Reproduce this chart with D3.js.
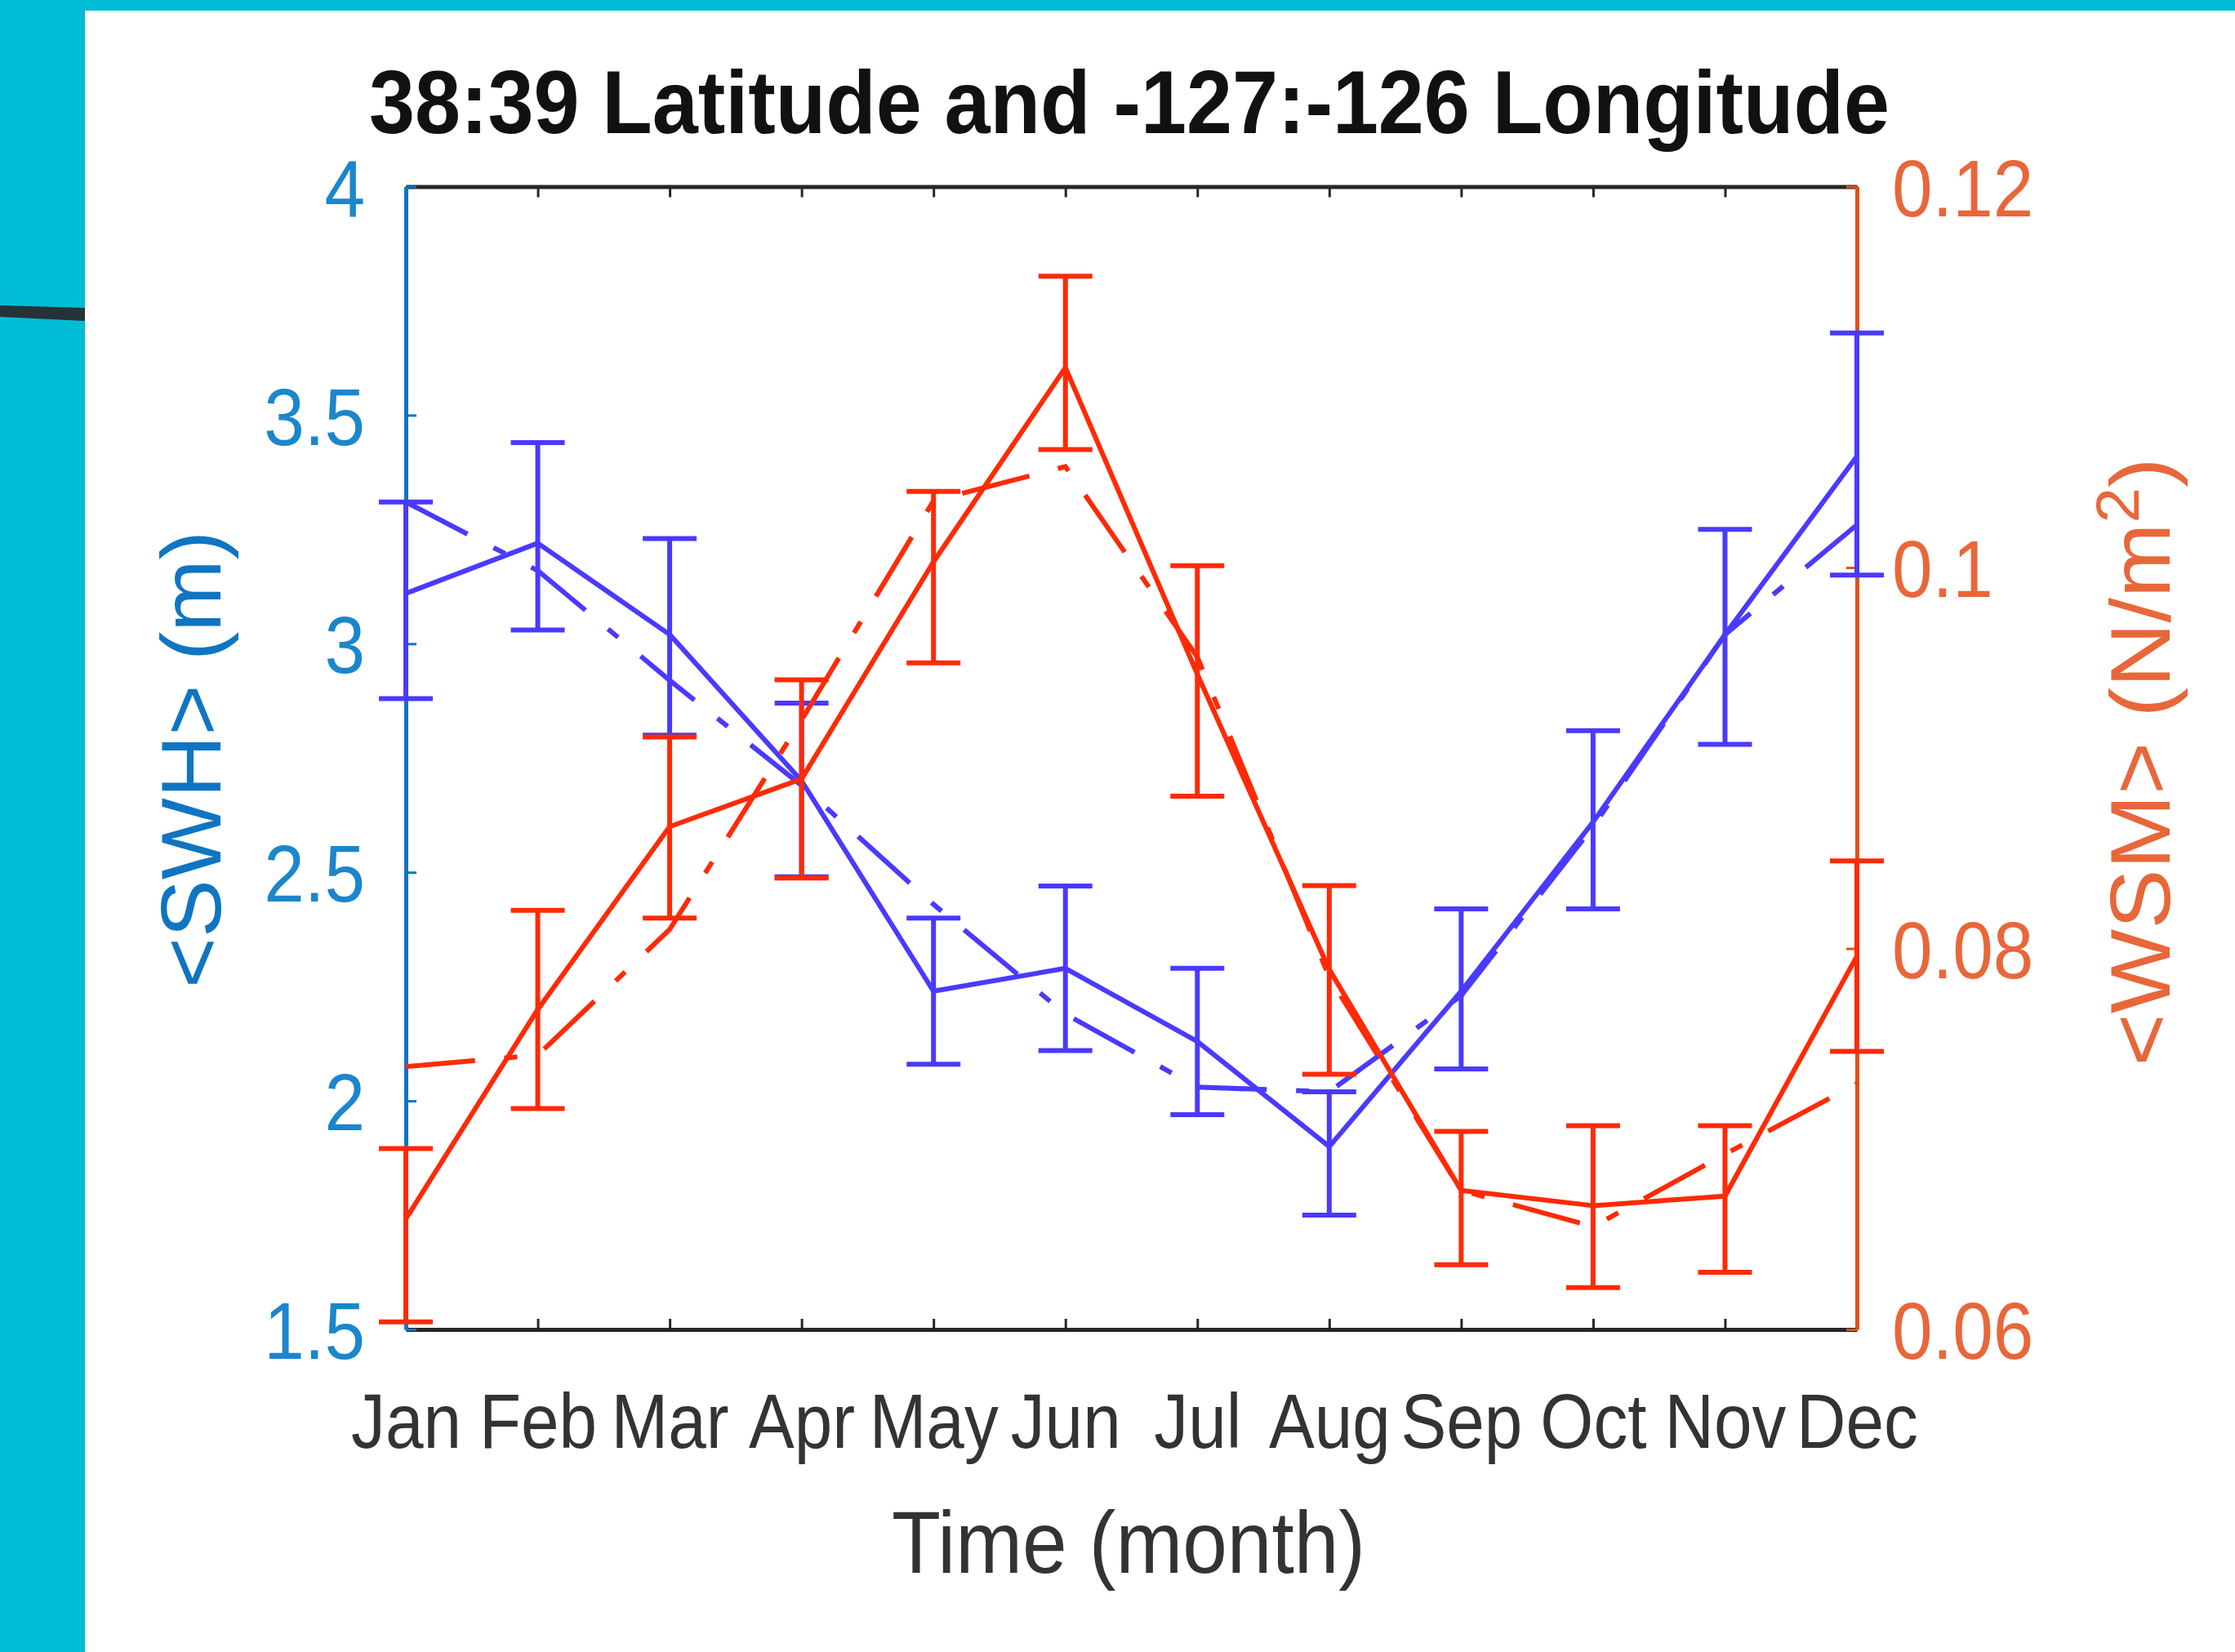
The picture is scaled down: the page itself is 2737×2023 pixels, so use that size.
<!DOCTYPE html>
<html>
<head>
<meta charset="utf-8">
<script src="https://cdn.jsdelivr.net/npm/d3@7"></script>
<style>
  html, body { margin: 0; padding: 0; background: #00bcd4; }
  svg { display: block; }
</style>
</head>
<body>
<svg id="chart" width="2737" height="2023"></svg>
<script>
// Monthly means with error-bar bounds, plus the dash-dot reference curves
const months = ["Jan","Feb","Mar","Apr","May","Jun","Jul","Aug","Sep","Oct","Nov","Dec"];

// Significant wave height <SWH> (m), left axis
const swhMean  = [3.11, 3.22, 3.02, 2.70, 2.24, 2.29, 2.13, 1.90, 2.24, 2.61, 3.02, 3.41];
const swhUpper = [3.31, 3.44, 3.23, 2.87, 2.40, 2.47, 2.29, 2.02, 2.42, 2.81, 3.25, 3.68];
const swhLower = [2.88, 3.03, 2.80, 2.49, 2.08, 2.11, 1.97, 1.75, 2.07, 2.42, 2.78, 3.15];
const swhRef   = [3.31, 3.16, 2.92, 2.69, 2.43, 2.19, 2.03, 2.02, 2.23, 2.60, 3.02, 3.26];

// Wind stress magnitude <WSM> (N/m^2), right axis
const wsmMean  = [0.0658, 0.0768, 0.0864, 0.0889, 0.1003, 0.1105, 0.0944, 0.0789, 0.0673, 0.0665, 0.0670, 0.0796];
const wsmUpper = [0.0695, 0.0820, 0.0911, 0.0941, 0.1040, 0.1153, 0.1001, 0.0833, 0.0704, 0.0707, 0.0707, 0.0846];
const wsmLower = [0.0604, 0.0716, 0.0816, 0.0837, 0.0950, 0.1062, 0.0880, 0.0734, 0.0634, 0.0622, 0.0630, 0.0746];
const wsmRef   = [0.0738, 0.0744, 0.0810, 0.0920, 0.1035, 0.1053, 0.0953, 0.0785, 0.0673, 0.0654, 0.0692, 0.0729];

const leftTicks  = [1.5, 2, 2.5, 3, 3.5, 4];
const rightTicks = [0.06, 0.08, 0.1, 0.12];

const W = 2737, H = 2023;
const FONT = "'Liberation Sans', Arial, Helvetica, sans-serif";
const BLUE_AXIS = "#0f75c2", BLUE_TEXT = "#1b86cc";
const ORANGE_AXIS = "#e0501a", ORANGE_TEXT = "#e8673a";
const SWH_COLOR = "#4a3aff", WSM_COLOR = "#ff2a06";
const plainNumber = d => String(d);

const svg = d3.select("#chart");

// page backdrop: cyan frame, white card, dark connector stroke
svg.append("rect").attr("width", W).attr("height", H).attr("fill", "#00bcd4");
svg.append("rect").attr("x", 104).attr("y", 13).attr("width", W - 104).attr("height", H - 13).attr("fill", "#ffffff");
svg.append("path").attr("d", "M0,374 L104,377 L104,393 L0,388 Z").attr("fill", "#263238");

const plot = { left: 497, right: 2274, top: 228.5, bottom: 1628 };
const x  = d3.scalePoint().domain(months).range([plot.left, plot.right]);
const yL = d3.scaleLinear().domain([1.5, 4]).range([plot.bottom, plot.top]);
const yR = d3.scaleLinear().domain([0.06, 0.12]).range([plot.bottom, plot.top]);

// squeeze a text node horizontally, like the narrow rendering of the labels
function condense(sel, factor) {
  sel.each(function () {
    const w = this.getComputedTextLength();
    this.setAttribute("textLength", w * factor);
    this.setAttribute("lengthAdjust", "spacingAndGlyphs");
  });
}

function styleAxis(g, color, width) {
  g.select(".domain").attr("stroke", color).attr("stroke-width", width);
  g.selectAll(".tick line").attr("stroke", color).attr("stroke-width", 3);
  g.attr("font-family", FONT);
}

// top frame: ticks only, no labels
const gTop = svg.append("g").attr("transform", `translate(0,${plot.top})`)
  .call(d3.axisTop(x).tickSizeInner(-13).tickSizeOuter(0));
gTop.selectAll(".tick text").remove();
styleAxis(gTop, "#262626", 5);

// bottom frame with month labels
const gBottom = svg.append("g").attr("transform", `translate(0,${plot.bottom})`)
  .call(d3.axisBottom(x).tickSizeInner(-13).tickSizeOuter(0));
styleAxis(gBottom, "#262626", 5);
gBottom.attr("font-size", 94);
gBottom.selectAll(".tick text")
  .attr("y", 145).attr("dy", 0)
  .attr("fill", "#333333")
  .call(condense, 0.89);

// left axis (SWH)
const gLeft = svg.append("g").attr("transform", `translate(${plot.left},0)`)
  .call(d3.axisLeft(yL).tickValues(leftTicks).tickFormat(plainNumber)
    .tickSizeInner(-13).tickSizeOuter(0).tickPadding(50));
styleAxis(gLeft, BLUE_AXIS, 5);
gLeft.attr("font-size", 99);
gLeft.selectAll(".tick text").attr("dy", "0.36em").attr("fill", BLUE_TEXT).call(condense, 0.9);

// right axis (WSM)
const gRight = svg.append("g").attr("transform", `translate(${plot.right},0)`)
  .call(d3.axisRight(yR).tickValues(rightTicks).tickFormat(plainNumber)
    .tickSizeInner(-13).tickSizeOuter(0).tickPadding(43));
styleAxis(gRight, ORANGE_AXIS, 5);
gRight.attr("font-size", 99);
gRight.selectAll(".tick text").attr("dy", "0.36em").attr("fill", ORANGE_TEXT).call(condense, 0.9);

// series: error bars, solid mean line, dash-dot reference
function drawSeries(mean, lower, upper, ref, y, color) {
  const g = svg.append("g");
  const line = d3.line().x((d, i) => x(months[i])).y(d => y(d));
  const capHalf = 33;
  const bars = g.selectAll("g.bar")
    .data(months.map((m, i) => ({ m, lo: lower[i], hi: upper[i] })))
    .join("g").attr("class", "bar")
    .attr("stroke", color).attr("stroke-width", 6);
  bars.append("line")
    .attr("x1", d => x(d.m)).attr("x2", d => x(d.m))
    .attr("y1", d => y(d.lo)).attr("y2", d => y(d.hi));
  bars.append("line")
    .attr("x1", d => x(d.m) - capHalf).attr("x2", d => x(d.m) + capHalf)
    .attr("y1", d => y(d.hi)).attr("y2", d => y(d.hi));
  bars.append("line")
    .attr("x1", d => x(d.m) - capHalf).attr("x2", d => x(d.m) + capHalf)
    .attr("y1", d => y(d.lo)).attr("y2", d => y(d.lo));
  g.append("path").datum(mean).attr("d", line)
    .attr("fill", "none").attr("stroke", color).attr("stroke-width", 6)
    .attr("stroke-linejoin", "round");
  g.append("path").datum(ref).attr("d", line)
    .attr("fill", "none").attr("stroke", color).attr("stroke-width", 6)
    .attr("stroke-dasharray", "85,36,16,36");
}
drawSeries(swhMean, swhLower, swhUpper, swhRef, yL, SWH_COLOR);
drawSeries(wsmMean, wsmLower, wsmUpper, wsmRef, yR, WSM_COLOR);

// title
svg.append("text")
  .attr("x", 1383).attr("y", 163)
  .attr("text-anchor", "middle")
  .attr("font-family", FONT).attr("font-weight", "bold").attr("font-size", 110)
  .attr("fill", "#111111")
  .attr("textLength", 1862).attr("lengthAdjust", "spacingAndGlyphs")
  .text("38:39 Latitude and -127:-126 Longitude");

// x-axis label
svg.append("text")
  .attr("x", 1382).attr("y", 1926)
  .attr("text-anchor", "middle")
  .attr("font-family", FONT).attr("font-size", 108)
  .attr("fill", "#333333")
  .attr("textLength", 580).attr("lengthAdjust", "spacingAndGlyphs")
  .text("Time (month)");

// left y-axis label
svg.append("text")
  .attr("transform", "translate(270,930) rotate(-90)")
  .attr("text-anchor", "middle")
  .attr("font-family", FONT).attr("font-size", 104)
  .attr("fill", BLUE_AXIS)
  .attr("textLength", 560).attr("lengthAdjust", "spacingAndGlyphs")
  .text("<SWH> (m)");

// right y-axis label
const rl = svg.append("text")
  .attr("transform", "translate(2657,933) rotate(-90)")
  .attr("text-anchor", "middle")
  .attr("font-family", FONT).attr("font-size", 104)
  .attr("fill", ORANGE_TEXT)
  .attr("textLength", 745).attr("lengthAdjust", "spacingAndGlyphs");
rl.append("tspan").text("<WSM> (N/m");
rl.append("tspan").attr("font-size", 74).attr("dy", -38).text("2");
rl.append("tspan").attr("dy", 38).text(")");
</script>
</body>
</html>
